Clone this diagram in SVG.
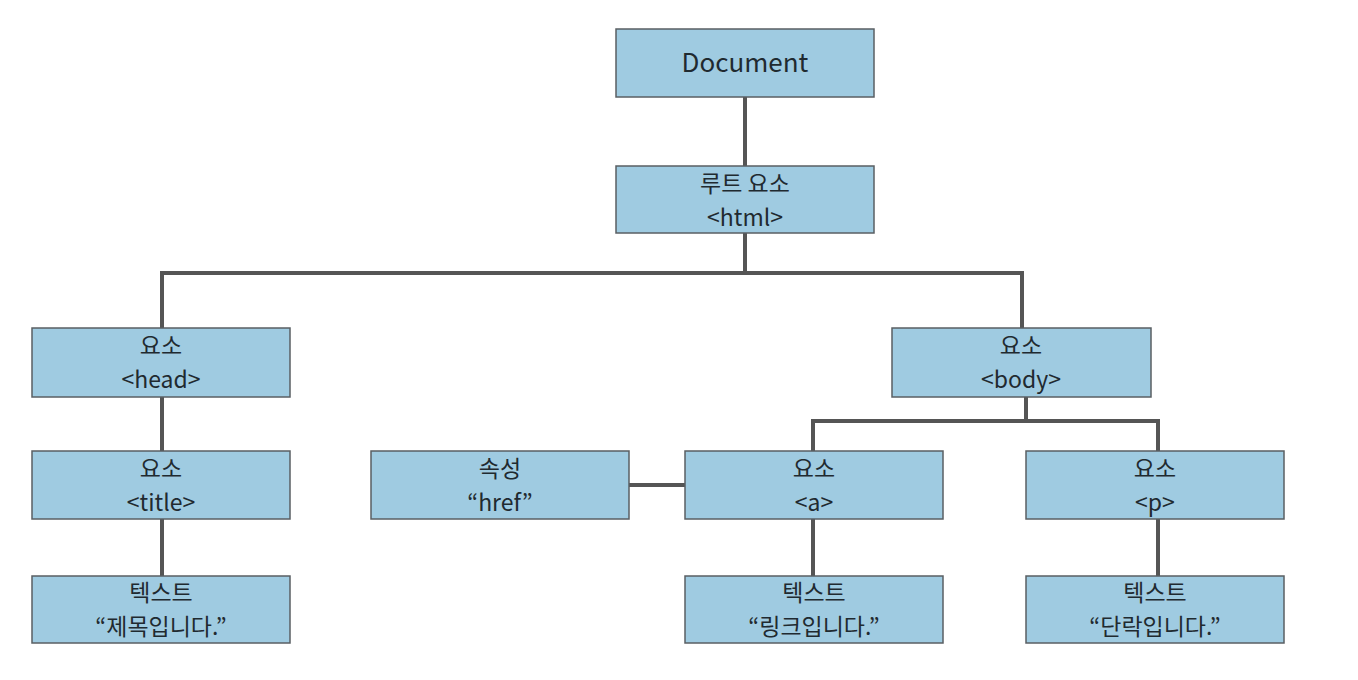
<svg xmlns="http://www.w3.org/2000/svg" width="1358" height="680" viewBox="0 0 1358 680">
<style>
.box{fill:#9fcbe1;stroke:#5a5f63;stroke-width:1.5}
.t{font-family:"Noto Sans CJK KR","Noto Sans",sans-serif;font-size:23px;fill:#1f2a30;text-anchor:middle}
.d{font-size:26px}
.c{stroke:#555555;stroke-width:4;fill:none}
</style>
<rect width="1358" height="680" fill="#ffffff"/>
<g id="connectors">
<line class="c" x1="745" y1="97" x2="745" y2="166"/>
<line class="c" x1="745" y1="233" x2="745" y2="273"/>
<polyline class="c" points="162,328 162,273 1022,273 1022,328"/>
<line class="c" x1="162" y1="397" x2="162" y2="451"/>
<line class="c" x1="162" y1="519" x2="162" y2="576"/>
<line class="c" x1="1026" y1="397" x2="1026" y2="421"/>
<polyline class="c" points="813,451 813,421 1158,421 1158,451"/>
<line class="c" x1="813" y1="519" x2="813" y2="576"/>
<line class="c" x1="1158" y1="519" x2="1158" y2="576"/>
<line class="c" x1="629" y1="485" x2="685" y2="485"/>
</g>
<g id="document">
<rect class="box" x="616" y="29" width="258" height="68"/>
<text class="t d" x="745" y="72">Document</text>
</g>
<g id="root">
<rect class="box" x="616" y="166" width="258" height="67"/>
<text class="t" x="745" y="192">루트 요소</text>
<text class="t" x="745" y="226">&lt;html&gt;</text>
</g>
<g id="head">
<rect class="box" x="32" y="328" width="258" height="69"/>
<text class="t" x="161" y="354">요소</text>
<text class="t" x="161" y="388">&lt;head&gt;</text>
</g>
<g id="body">
<rect class="box" x="892" y="328" width="259" height="69"/>
<text class="t" x="1021" y="354">요소</text>
<text class="t" x="1021" y="388">&lt;body&gt;</text>
</g>
<g id="title">
<rect class="box" x="32" y="451" width="258" height="68"/>
<text class="t" x="161" y="477">요소</text>
<text class="t" x="161" y="511">&lt;title&gt;</text>
</g>
<g id="attr">
<rect class="box" x="371" y="451" width="258" height="68"/>
<text class="t" x="500" y="477">속성</text>
<text class="t" x="500" y="511">“href”</text>
</g>
<g id="a">
<rect class="box" x="685" y="451" width="258" height="68"/>
<text class="t" x="814" y="477">요소</text>
<text class="t" x="814" y="511">&lt;a&gt;</text>
</g>
<g id="p">
<rect class="box" x="1026" y="451" width="258" height="68"/>
<text class="t" x="1155" y="477">요소</text>
<text class="t" x="1155" y="511">&lt;p&gt;</text>
</g>
<g id="text-title">
<rect class="box" x="32" y="576" width="258" height="67"/>
<text class="t" x="161" y="601">텍스트</text>
<text class="t" x="161" y="635">“제목입니다.”</text>
</g>
<g id="text-a">
<rect class="box" x="685" y="576" width="258" height="67"/>
<text class="t" x="814" y="601">텍스트</text>
<text class="t" x="814" y="635">“링크입니다.”</text>
</g>
<g id="text-p">
<rect class="box" x="1026" y="576" width="258" height="67"/>
<text class="t" x="1155" y="601">텍스트</text>
<text class="t" x="1155" y="635">“단락입니다.”</text>
</g>
</svg>
